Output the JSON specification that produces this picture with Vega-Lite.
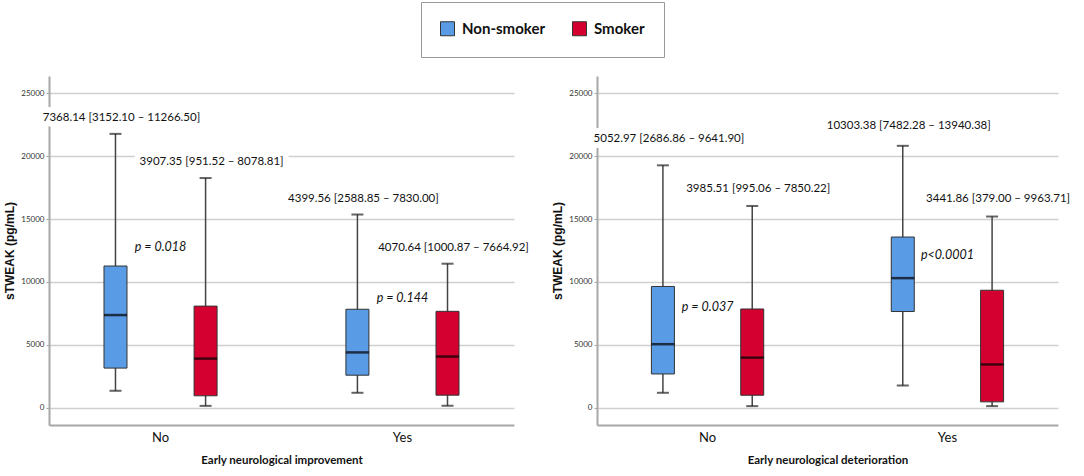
{
  "$schema": "https://vega.github.io/schema/vega-lite/v6.json",
  "padding": {"left": 3, "top": 1, "right": 5, "bottom": 5},
  "background": "white",
  "bounds": "flush",
  "datasets": {
    "boxes": [
      {"panel": "improvement", "group": "No", "smoker": "Non-smoker", "lower": 1350, "q1": 3152.10, "median": 7368.14, "q3": 11266.50, "upper": 21770, "label_y": 23010, "label": "7368.14 [3152.10 – 11266.50]"},
      {"panel": "improvement", "group": "No", "smoker": "Smoker", "lower": 150, "q1": 951.52, "median": 3907.35, "q3": 8078.81, "upper": 18260, "label_y": 19527, "label": "3907.35 [951.52 – 8078.81]"},
      {"panel": "improvement", "group": "Yes", "smoker": "Non-smoker", "lower": 1190, "q1": 2588.85, "median": 4399.56, "q3": 7830.00, "upper": 15360, "label_y": 16622, "label": "4399.56 [2588.85 – 7830.00]"},
      {"panel": "improvement", "group": "Yes", "smoker": "Smoker", "lower": 160, "q1": 1000.87, "median": 4070.64, "q3": 7664.92, "upper": 11450, "label_y": 12664, "label": "4070.64 [1000.87 – 7664.92]"},
      {"panel": "deterioration", "group": "No", "smoker": "Non-smoker", "lower": 1190, "q1": 2686.86, "median": 5052.97, "q3": 9641.90, "upper": 19270, "label_y": 21323, "label": "5052.97 [2686.86 – 9641.90]"},
      {"panel": "deterioration", "group": "No", "smoker": "Smoker", "lower": 130, "q1": 995.06, "median": 3985.51, "q3": 7850.22, "upper": 16040, "label_y": 17413, "label": "3985.51 [995.06 – 7850.22]"},
      {"panel": "deterioration", "group": "Yes", "smoker": "Non-smoker", "lower": 1770, "q1": 7650, "median": 10303.38, "q3": 13570, "upper": 20820, "label_y": 22431, "label": "10303.38 [7482.28 – 13940.38]"},
      {"panel": "deterioration", "group": "Yes", "smoker": "Smoker", "lower": 130, "q1": 470, "median": 3441.86, "q3": 9340, "upper": 15200, "label_y": 16622, "label": "3441.86 [379.00 – 9963.71]"}
    ],
    "pvals": [
      {"panel": "improvement", "group": "No", "y": 12745, "text": "p = 0.018"},
      {"panel": "improvement", "group": "Yes", "y": 8740, "text": "p = 0.144"},
      {"panel": "deterioration", "group": "No", "y": 7995, "text": "p = 0.037"},
      {"panel": "deterioration", "group": "Yes", "y": 12140, "text": "p<0.0001"}
    ]
  },
  "spacing": 83,
  "resolve": {
    "scale": {"x": "independent", "y": "independent", "xOffset": "independent", "color": "shared"},
    "legend": {"color": "shared"}
  },
  "hconcat": [
    {
      "width": 465,
      "height": 349,
      "data": {"name": "boxes"},
      "transform": [{"filter": "datum.panel === 'improvement'"}],
      "encoding": {
        "x": {
          "field": "group", "type": "nominal",
          "scale": {"paddingInner": 0.4, "paddingOuter": 0.161},
          "axis": {"title": "Early neurological improvement"}
        }
      },
      "layer": [
        {
          "mark": {"type": "text", "font": "Lato", "fontSize": 11.5, "dx": 6, "fill": "white", "stroke": "white", "strokeWidth": 12, "strokeJoin": "round"},
          "encoding": {
            "xOffset": {"field": "smoker", "type": "nominal", "scale": {"paddingInner": 0.6, "paddingOuter": 0.1056}},
            "y": {
              "field": "label_y", "type": "quantitative",
              "scale": {"domain": [-1370, 26370], "nice": false, "zero": false},
              "axis": {"title": "sTWEAK (pg/mL)", "values": [0, 5000, 10000, 15000, 20000, 25000], "format": "d"}
            },
            "text": {"field": "label"}
          }
        },
        {
          "mark": {"type": "rule", "color": "#444", "strokeWidth": 1.5},
          "encoding": {
            "xOffset": {"field": "smoker", "type": "nominal"},
            "y": {"field": "lower", "type": "quantitative"},
            "y2": {"field": "upper"}
          }
        },
        {
          "mark": {"type": "tick", "color": "#222", "size": 12, "thickness": 2},
          "encoding": {
            "xOffset": {"field": "smoker", "type": "nominal"},
            "y": {"field": "lower", "type": "quantitative"}
          }
        },
        {
          "mark": {"type": "tick", "color": "#222", "size": 12, "thickness": 2},
          "encoding": {
            "xOffset": {"field": "smoker", "type": "nominal"},
            "y": {"field": "upper", "type": "quantitative"}
          }
        },
        {
          "mark": {"type": "bar", "size": 23, "stroke": "#333", "strokeWidth": 1},
          "encoding": {
            "xOffset": {"field": "smoker", "type": "nominal"},
            "y": {"field": "q1", "type": "quantitative"},
            "y2": {"field": "q3"},
            "color": {
              "field": "smoker", "type": "nominal",
              "scale": {"domain": ["Non-smoker", "Smoker"], "range": ["#5a9be6", "#d4002f"]},
              "legend": {
                "orient": "none", "legendX": 372, "legendY": -74, "direction": "horizontal",
                "title": null, "strokeColor": "#999", "padding": 19, "columnPadding": 24,
                "symbolType": "square", "symbolSize": 196, "symbolStrokeColor": "#222", "symbolStrokeWidth": 1,
                "labelFont": "Lato", "labelFontSize": 15, "labelFontWeight": "bold",
                "labelColor": "#111", "labelOffset": 7
              }
            }
          }
        },
        {
          "mark": {"type": "tick", "color": "#000", "size": 23, "thickness": 2.5},
          "encoding": {
            "xOffset": {"field": "smoker", "type": "nominal"},
            "y": {"field": "median", "type": "quantitative"}
          }
        },
        {
          "mark": {"type": "text", "font": "Lato", "fontSize": 11.5, "dx": 6, "color": "#111"},
          "encoding": {
            "xOffset": {"field": "smoker", "type": "nominal"},
            "y": {"field": "label_y", "type": "quantitative"},
            "text": {"field": "label"}
          }
        },
        {
          "data": {"name": "pvals"},
          "transform": [{"filter": "datum.panel === 'improvement'"}],
          "mark": {"type": "text", "font": "Lato", "fontSize": 12.5, "fontStyle": "italic", "color": "#111"},
          "encoding": {
            "y": {"field": "y", "type": "quantitative"},
            "text": {"field": "text"}
          }
        }
      ]
    },
    {
      "width": 461,
      "height": 349,
      "data": {"name": "boxes"},
      "transform": [{"filter": "datum.panel === 'deterioration'"}],
      "encoding": {
        "x": {
          "field": "group", "type": "nominal",
          "scale": {"paddingInner": 0.4, "paddingOuter": 0.161},
          "axis": {"title": "Early neurological deterioration"}
        }
      },
      "layer": [
        {
          "mark": {"type": "text", "font": "Lato", "fontSize": 11.5, "dx": 6, "fill": "white", "stroke": "white", "strokeWidth": 12, "strokeJoin": "round"},
          "encoding": {
            "xOffset": {"field": "smoker", "type": "nominal", "scale": {"paddingInner": 0.6, "paddingOuter": 0.1056}},
            "y": {
              "field": "label_y", "type": "quantitative",
              "scale": {"domain": [-1370, 26370], "nice": false, "zero": false},
              "axis": {"title": "sTWEAK (pg/mL)", "values": [0, 5000, 10000, 15000, 20000, 25000], "format": "d"}
            },
            "text": {"field": "label"}
          }
        },
        {
          "mark": {"type": "rule", "color": "#444", "strokeWidth": 1.5},
          "encoding": {
            "xOffset": {"field": "smoker", "type": "nominal"},
            "y": {"field": "lower", "type": "quantitative"},
            "y2": {"field": "upper"}
          }
        },
        {
          "mark": {"type": "tick", "color": "#222", "size": 12, "thickness": 2},
          "encoding": {
            "xOffset": {"field": "smoker", "type": "nominal"},
            "y": {"field": "lower", "type": "quantitative"}
          }
        },
        {
          "mark": {"type": "tick", "color": "#222", "size": 12, "thickness": 2},
          "encoding": {
            "xOffset": {"field": "smoker", "type": "nominal"},
            "y": {"field": "upper", "type": "quantitative"}
          }
        },
        {
          "mark": {"type": "bar", "size": 23, "stroke": "#333", "strokeWidth": 1},
          "encoding": {
            "xOffset": {"field": "smoker", "type": "nominal"},
            "y": {"field": "q1", "type": "quantitative"},
            "y2": {"field": "q3"},
            "color": {"field": "smoker", "type": "nominal"}
          }
        },
        {
          "mark": {"type": "tick", "color": "#000", "size": 23, "thickness": 2.5},
          "encoding": {
            "xOffset": {"field": "smoker", "type": "nominal"},
            "y": {"field": "median", "type": "quantitative"}
          }
        },
        {
          "mark": {"type": "text", "font": "Lato", "fontSize": 11.5, "dx": 6, "color": "#111"},
          "encoding": {
            "xOffset": {"field": "smoker", "type": "nominal"},
            "y": {"field": "label_y", "type": "quantitative"},
            "text": {"field": "label"}
          }
        },
        {
          "data": {"name": "pvals"},
          "transform": [{"filter": "datum.panel === 'deterioration'"}],
          "mark": {"type": "text", "font": "Lato", "fontSize": 12.5, "fontStyle": "italic", "color": "#111"},
          "encoding": {
            "y": {"field": "y", "type": "quantitative"},
            "text": {"field": "text"}
          }
        }
      ]
    }
  ],
  "config": {
    "view": {"stroke": null},
    "axisY": {
      "zindex": 0, "domainColor": "#a8a8a8", "domainWidth": 2, "gridColor": "#cfcfcf", "gridWidth": 1.5,
      "tickColor": "#a8a8a8", "tickSize": 3, "labelFont": "Lato", "labelFontSize": 8,
      "labelColor": "#333", "labelPadding": 2, "titleFont": "Liberation Sans", "titleFontSize": 12,
      "titleFontWeight": "bold", "titleColor": "#111", "titlePadding": 4
    },
    "axisX": {
      "zindex": 0, "domainColor": "#a8a8a8", "domainWidth": 2, "grid": false, "ticks": false,
      "labelAngle": 0, "labelFont": "Lato", "labelFontSize": 13, "labelColor": "#111",
      "labelPadding": 6, "titleFont": "Lato", "titleFontSize": 11.5, "titleFontWeight": "bold",
      "titleColor": "#111", "titlePadding": 10
    }
  }
}
